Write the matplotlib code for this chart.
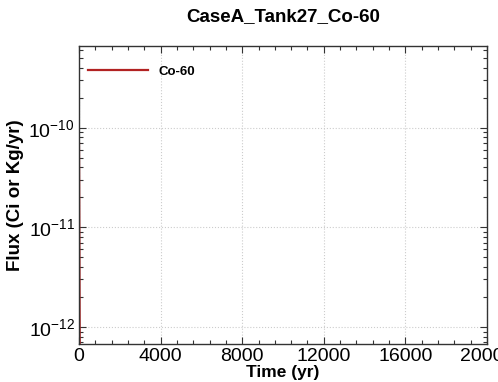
import matplotlib
matplotlib.use("Agg")
import matplotlib.pyplot as plt
from matplotlib.ticker import LogLocator, MultipleLocator, NullFormatter

plt.rcParams['font.family'] = ['Liberation Sans', 'DejaVu Sans']

# Data (Co-60 decays within a few decades, so it hugs the y axis)
time_yr = [0, 2, 5, 10, 20, 30, 50, 80, 120]
flux = [7.0e-11, 6.0e-11, 4.5e-11, 2.5e-11, 6.0e-12, 1.5e-12, 1.0e-13, 2.0e-15, 1.0e-17]
series_name = "Co-60"
title = "CaseA_Tank27_Co-60"
x_ticks = [0, 4000, 8000, 12000, 16000, 20000]

fig = plt.figure(figsize=(4.98, 3.82), dpi=100)
ax = fig.add_axes([0.1586, 0.0995, 0.8194, 0.7801])

ax.plot(time_yr, flux, color='#b22222', lw=1.6, label=series_name)
ax.set_yscale('log')
ax.set_xlim(0, 20000)
ax.set_ylim(10**-12.17, 10**-9.18)

ax.set_xticks(x_ticks)
ax.set_xticklabels([str(t) for t in x_ticks])
ax.xaxis.set_minor_locator(MultipleLocator(800))
ax.yaxis.set_major_locator(LogLocator(base=10, numticks=10))
ax.yaxis.set_minor_locator(LogLocator(base=10, subs=range(2, 10), numticks=10))
ax.yaxis.set_minor_formatter(NullFormatter())

ax.tick_params(which='both', direction='in', top=True, right=True, colors='#333333')
ax.tick_params(which='major', length=5, width=0.8, labelsize=14, labelcolor='black', pad=3)
ax.tick_params(which='minor', length=3, width=0.8)
for s in ax.spines.values():
    s.set_color('#333333')
    s.set_linewidth(1.0)

ax.grid(True, which='major', color='#cccccc', linestyle=':', linewidth=0.8)

ax.set_title(title, fontsize=13.5, fontweight='bold', pad=18)
ax.set_xlabel("Time (yr)", fontsize=12.5, fontweight='bold', labelpad=0)
ax.set_ylabel("Flux (Ci or Kg/yr)", fontsize=13.5, fontweight='bold', labelpad=3)

leg = ax.legend(loc='upper left', frameon=False, prop={'size': 9.5, 'weight': 'bold'},
                handlelength=4.5, borderaxespad=0.3, bbox_to_anchor=(0.0, 0.965))

fig.savefig("out.png", dpi=100)
